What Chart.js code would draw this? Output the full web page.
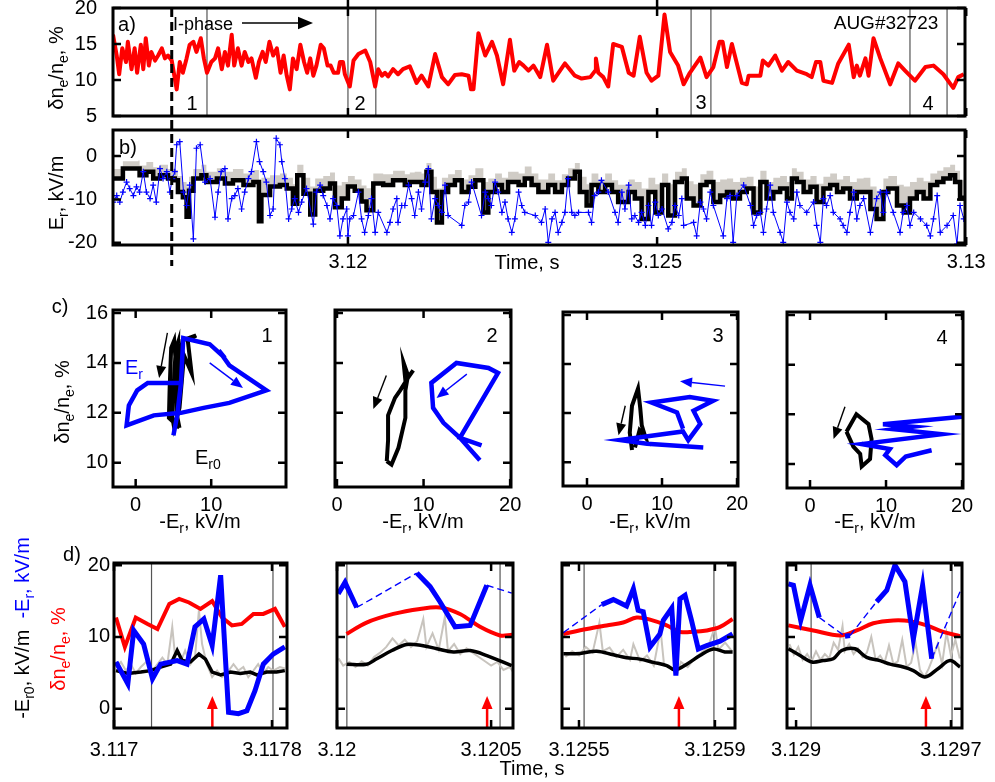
<!DOCTYPE html>
<html>
<head>
<meta charset="utf-8">
<script src="https://cdn.jsdelivr.net/npm/chart.js@4.4.1/dist/chart.umd.min.js"></script>
<style>
body { margin: 0; width: 995px; height: 782px; position: relative; background: #fff; overflow: hidden;
       font-family: "Liberation Sans", Arial, Helvetica, sans-serif; }
canvas { position: absolute; }
.t { position: absolute; font-size: 20px; line-height: 1; white-space: nowrap; color: #000; }
.t sub { font-size: 70%; vertical-align: -0.35em; line-height: 0; }
.c { transform: translate(-50%, -50%); }
.l { transform: translateY(-50%); }
.r { transform: translate(-50%, -50%) rotate(-90deg); }
</style>
</head>
<body>
<canvas id="pa"></canvas>
<canvas id="pb"></canvas>
<canvas id="c1"></canvas>
<canvas id="c2"></canvas>
<canvas id="c3"></canvas>
<canvas id="c4"></canvas>
<canvas id="d1"></canvas>
<canvas id="d2"></canvas>
<canvas id="d3"></canvas>
<canvas id="d4"></canvas>
<canvas id="overlay" width="995" height="782" style="left:0;top:0"></canvas>

<div class="t c" style="left:127px;top:24px">a)</div>
<div class="t l" style="left:173px;top:24px;font-size:18px">I-phase</div>
<div class="t c" style="left:886px;top:22px;font-size:19px">AUG#32723</div>
<div class="t c" style="left:192px;top:103px">1</div>
<div class="t c" style="left:360px;top:103px">2</div>
<div class="t c" style="left:701px;top:102px">3</div>
<div class="t c" style="left:928px;top:103px">4</div>
<div class="t r" style="left:56px;top:68px">&delta;n<sub>e</sub>/n<sub>e</sub>, %</div>
<div class="t c" style="left:128px;top:147px">b)</div>
<div class="t r" style="left:56px;top:193px">E<sub>r</sub>, kV/m</div>
<div class="t c" style="left:527px;top:262px">Time, s</div>

<div class="t c" style="left:60px;top:306px">c)</div>
<div class="t r" style="left:62px;top:402px">&delta;n<sub>e</sub>/n<sub>e</sub>, %</div>
<div class="t c" style="left:267px;top:335px">1</div>
<div class="t c" style="left:492px;top:335px">2</div>
<div class="t c" style="left:718px;top:335px">3</div>
<div class="t c" style="left:942px;top:337px">4</div>
<div class="t l" style="left:125px;top:367px;color:#0000ff">E<sub>r</sub></div>
<div class="t l" style="left:195px;top:457px">E<sub>r0</sub></div>
<div class="t c" style="left:200px;top:521px">-E<sub>r</sub>, kV/m</div>
<div class="t c" style="left:423px;top:521px">-E<sub>r</sub>, kV/m</div>
<div class="t c" style="left:650px;top:521px">-E<sub>r</sub>, kV/m</div>
<div class="t c" style="left:875px;top:521px">-E<sub>r</sub>, kV/m</div>

<div class="t c" style="left:72px;top:554px">d)</div>
<div class="t r" style="left:22px;top:628px">-E<sub>r0</sub>, kV/m&nbsp;&nbsp;<span style="color:#0000ff">-E<sub>r</sub>, kV/m</span></div>
<div class="t r" style="left:58px;top:649px;color:#ff0000">&delta;n<sub>e</sub>/n<sub>e</sub>, %</div>
<div class="t c" style="left:532px;top:768px">Time, s</div>

<script>
// All times are in ms after t = 3.12 s; tick labels give the absolute time.

// ---- panels a and b ----
const abTicks = [0, 5, 10];
const abTickLabels = ['3.12', '3.125', '3.13'];
const aYTicks = [5, 10, 15, 20];
const bYTicks = [-20, -10, 0];
const iPhaseStart = -2.85;
const regionLines = [-2.28, 0.0, 0.45, 5.55, 5.87, 9.09, 9.69];

const aTime = [-3.80,-3.74,-3.70,-3.65,-3.59,-3.56,-3.50,-3.45,-3.41,-3.35,-3.31,-3.27,-3.22,-3.18,-3.12,-3.07,-3.01,-2.96,-2.91,-2.85,
  -2.77,-2.72,-2.67,-2.61,-2.56,-2.50,-2.45,-2.38,-2.33,-2.28,-2.21,-2.15,-2.10,-2.04,-1.99,-1.94,-1.88,-1.84,-1.78,-1.72,
  -1.67,-1.61,-1.56,-1.49,-1.44,-1.38,-1.33,-1.27,-1.21,-1.15,-1.09,-1.04,-0.99,-0.94,-0.89,-0.83,-0.77,-0.71,-0.66,-0.61,
  -0.56,-0.51,-0.44,-0.39,-0.33,-0.28,-0.23,-0.16,-0.13,-0.08,-0.05,
  0.03,0.09,0.17,0.28,0.36,0.44,0.49,0.55,0.60,0.65,0.73,0.81,
  0.89,1.00,1.11,1.19,1.30,1.41,1.52,1.62,1.73,1.84,1.95,1.99,2.03,2.11,2.22,2.33,2.41,2.51,2.62,2.69,
  2.77,2.84,2.92,3.00,3.11,3.22,3.32,3.51,3.67,3.78,3.92,4.00,4.01,4.05,4.13,4.21,4.29,4.43,4.54,4.62,
  4.72,4.83,4.91,5.02,5.12,5.21,5.34,5.43,
  5.53,5.70,5.80,5.91,6.01,6.06,6.13,6.21,6.37,6.45,6.48,6.67,6.71,6.80,6.91,7.02,7.12,7.26,7.42,7.50,
  7.57,7.64,7.69,7.83,7.93,8.10,8.18,8.23,8.28,8.37,8.42,8.45,8.50,8.61,8.77,8.90,9.01,9.17,9.34,9.47,
  9.63,9.79,9.87,9.96];
const aFluct = [16.3,13.4,10.8,14.4,12.5,15.3,11.5,14.4,11.0,14.9,11.5,15.8,12.0,13.9,12.7,13.4,14.4,13.0,13.4,12.7,
  8.7,12.5,11.0,13.0,14.9,15.3,13.9,15.8,13.0,11.0,12.5,13.0,14.4,11.5,13.9,12.0,16.3,12.0,14.4,12.0,
  13.9,12.5,13.0,10.3,12.5,13.9,12.5,15.3,13.4,14.4,11.0,13.4,10.6,8.7,13.0,11.5,14.9,12.5,11.0,13.0,
  10.6,12.0,14.9,14.4,12.0,12.0,11.0,11.0,12.5,12.5,10.8,
  9.1,12.7,13.6,14.1,12.5,9.1,11.5,10.6,11.0,10.5,11.5,10.8,
  11.5,11.9,9.6,10.6,9.1,13.6,10.4,9.4,10.7,10.8,10.6,8.7,8.7,16.5,13.4,15.3,13.4,9.4,15.6,11.3,
  12.5,12.0,11.3,12.0,10.4,14.9,9.9,12.3,10.6,10.2,10.4,11.3,13.0,11.0,10.4,9.1,15.0,14.6,11.0,10.6,
  16.0,11.0,9.9,10.6,19.1,13.9,12.0,9.4,
  11.0,13.1,10.4,11.8,15.3,15.3,11.8,15.0,9.6,9.4,10.6,10.6,12.7,12.0,13.4,11.3,12.5,11.3,10.8,10.4,
  12.5,12.5,9.9,9.6,12.3,14.9,10.4,12.0,10.6,13.0,10.6,12.5,15.8,13.0,9.4,12.3,11.3,9.9,11.8,12.0,
  10.8,8.9,10.4,10.8];

const bTime = [-3.80,-3.66,-3.64,-3.39,-3.37,-3.26,-3.15,-3.04,-2.91,-2.80,-2.75,-2.67,-2.61,-2.57,-2.50,-2.37,-2.29,-2.12,-1.99,-1.86,
  -1.69,-1.53,-1.44,-1.40,-1.26,-1.10,-0.99,-0.89,-0.82,-0.72,-0.61,-0.53,-0.40,-0.29,-0.21,-0.10,0.00,0.11,0.22,0.30,
  0.41,0.57,0.73,0.92,1.00,1.08,1.19,1.27,1.35,1.44,1.52,1.62,1.73,1.84,1.95,2.06,2.19,2.27,2.38,2.49,
  2.59,2.76,2.86,2.97,3.08,3.24,3.35,3.46,3.56,3.67,3.75,3.86,3.94,4.05,4.16,4.27,4.37,4.54,4.64,4.75,
  4.86,4.97,5.08,5.18,5.29,5.40,5.48,5.59,5.70,5.80,5.91,6.02,6.13,6.23,6.34,6.45,6.56,6.67,6.77,6.88,
  6.99,7.10,7.18,7.26,7.37,7.48,7.58,7.69,7.80,7.91,8.01,8.12,8.23,8.34,8.45,8.55,8.66,8.74,8.88,8.99,
  9.09,9.20,9.31,9.42,9.53,9.63,9.74,9.82,9.90,9.96];
const bEr0 = [-5.2,-5.2,-2.9,-2.9,-4.4,-3.6,-5.2,-4.4,-5.2,-5.6,-8.3,-9.5,-14.0,-8.0,-5.2,-4.4,-6.0,-5.2,-6.3,-5.6,
  -6.7,-6.0,-15.0,-9.0,-7.0,-6.7,-7.5,-11.0,-4.4,-8.7,-13.5,-8.0,-7.5,-6.3,-11.8,-9.8,-7.0,-8.0,-10.5,-12.5,
  -6.3,-6.7,-5.6,-6.7,-6.0,-6.0,-6.7,-3.6,-8.3,-15.3,-8.3,-6.7,-5.6,-8.3,-7.1,-5.6,-13.0,-8.3,-6.7,-8.3,
  -6.0,-6.7,-5.2,-6.7,-8.3,-6.7,-8.3,-6.7,-5.2,-3.6,-8.3,-11.4,-6.7,-8.3,-6.7,-8.3,-10.6,-8.3,-9.8,-14.5,
  -8.3,-13.0,-6.7,-13.7,-6.0,-5.2,-9.8,-11.4,-6.7,-6.0,-10.6,-9.1,-8.3,-9.8,-8.3,-7.5,-13.0,-6.0,-9.8,-8.3,
  -7.5,-9.8,-5.2,-6.0,-8.3,-7.1,-10.6,-7.5,-6.7,-8.3,-7.5,-9.8,-8.3,-8.3,-12.2,-14.5,-8.3,-7.5,-11.4,-13.0,
  -9.8,-8.3,-9.8,-6.7,-6.0,-5.2,-4.4,-6.0,-9.8,-9.1];
const bEr0Upper = [-3.0,-2.6,-1.2,-1.0,-2.2,-1.4,-2.6,-2.0,-3.0,-3.2,-4.6,-6.0,-7.0,-4.8,-3.0,-2.0,-3.6,-2.8,-3.6,-3.0,
  -4.0,-3.2,-6.0,-5.0,-4.4,-4.0,-5.0,-6.5,-2.0,-5.0,-7.0,-5.2,-4.6,-3.8,-6.8,-6.0,-4.6,-5.4,-6.8,-7.4,
  -4.0,-4.2,-3.4,-4.2,-3.8,-3.6,-4.0,-1.6,-4.8,-7.5,-5.0,-4.2,-3.2,-5.4,-4.4,-2.8,-6.0,-5.2,-4.0,-5.0,
  -3.6,-4.0,-2.4,-4.0,-5.4,-4.0,-5.6,-4.2,-2.8,-1.6,-4.8,-6.5,-4.0,-5.4,-4.0,-5.6,-6.6,-5.4,-6.0,-7.5,
  -5.0,-6.5,-4.0,-6.5,-3.6,-2.8,-5.8,-6.5,-4.2,-3.4,-6.0,-5.4,-5.2,-6.0,-5.0,-4.8,-7.0,-3.4,-6.0,-5.0,
  -4.6,-6.0,-2.8,-3.6,-5.4,-4.6,-6.4,-4.8,-4.0,-5.4,-4.6,-6.0,-5.2,-5.0,-7.0,-8.0,-5.2,-4.6,-6.6,-7.0,
  -6.0,-5.0,-5.8,-4.0,-3.4,-2.6,-2.0,-3.4,-5.6,-5.4];

const bErTime = [-3.80,-3.74,-3.69,-3.64,-3.58,-3.53,-3.47,-3.42,-3.37,-3.31,-3.26,-3.20,-3.15,-3.10,-3.04,-2.99,-2.93,-2.88,-2.84,-2.80,
  -2.77,-2.72,-2.66,-2.61,-2.56,-2.50,-2.45,-2.39,-2.31,-2.23,-2.15,-2.10,-2.05,-1.99,-1.94,-1.88,-1.83,-1.78,-1.72,-1.67,
  -1.61,-1.56,-1.48,-1.43,-1.37,-1.32,-1.26,-1.21,-1.16,-1.10,-1.07,-1.02,-0.96,-0.91,-0.86,-0.80,-0.75,-0.67,-0.56,-0.51,
  -0.45,-0.40,-0.34,-0.29,-0.24,-0.18,-0.13,-0.08,-0.02,0.00,0.03,0.09,0.17,0.22,0.27,0.33,0.38,0.44,0.49,0.63,
  0.68,0.73,0.79,
  0.81,0.87,0.92,0.98,1.03,1.08,1.14,1.19,1.25,1.30,1.35,1.41,1.46,1.52,1.57,1.62,1.84,1.89,1.95,2.00,
  2.16,2.22,2.27,2.32,2.38,2.43,2.49,2.54,2.59,2.65,2.70,2.76,2.81,2.86,3.03,3.13,3.19,3.24,3.30,3.35,
  3.40,3.46,3.51,3.56,3.62,3.67,3.73,3.89,3.94,3.99,4.05,4.10,4.21,4.32,4.37,4.43,4.48,4.54,4.59,4.64,
  4.70,4.75,4.81,4.86,4.91,4.97,5.02,5.08,5.18,5.24,5.29,5.35,5.40,
  5.43,5.59,5.64,5.70,5.75,5.80,5.86,5.91,6.07,6.13,6.18,6.23,6.29,6.40,6.51,6.56,6.61,6.67,6.72,6.77,
  6.83,6.88,6.99,7.04,7.10,7.15,7.21,7.26,7.31,7.42,7.53,7.58,7.64,7.69,7.74,7.80,7.85,7.96,8.01,8.07,
  8.12,8.18,8.23,8.28,8.34,8.45,8.55,8.61,8.66,8.71,8.82,8.93,8.98,9.04,9.09,9.15,9.26,9.36,9.42,9.47,
  9.53,9.58,9.69,9.79,9.85,9.90,9.96];
const bEr = [-10.6,-9.1,-10.6,-8.3,-6.0,-7.5,-9.1,-7.1,-8.3,-3.6,-8.3,-9.8,-6.7,-10.6,-2.9,-5.2,-3.6,-8.3,-5.2,-3.6,
  2.6,3.3,-8.3,-11.4,-6.7,-19.1,1.8,2.6,-6.0,-5.2,-14.1,-8.3,-3.6,-2.9,-14.5,-9.8,-9.1,-7.5,-12.2,-8.3,
  -5.2,-3.6,3.3,-1.3,-3.6,-6.0,-13.7,-12.2,4.1,2.6,-1.3,-5.2,-14.5,-12.2,-9.8,-13.0,-10.6,-7.5,-15.7,-8.3,
  -6.7,-9.1,-11.4,-14.5,-9.8,-11.4,-18.4,-14.5,-12.2,-18.4,-14.5,-13.7,-8.3,-14.5,-17.6,-13.7,-9.8,-17.6,-13.0,-17.6,
  -15.3,-12.2,-9.8,
  -15.3,-11.4,-11.4,-6.7,-9.8,-13.7,-8.3,-12.2,-6.0,-2.9,-14.5,-9.8,-11.4,-13.0,-6.7,-13.7,-16.0,-11.4,-10.6,-6.0,
  -13.7,-8.3,-9.8,-11.4,-6.0,-8.3,-13.0,-10.6,-14.5,-17.6,-14.5,-8.3,-11.4,-13.0,-13.7,-15.3,-12.2,-19.9,-14.5,-13.0,
  -17.6,-15.3,-13.0,-5.2,-13.0,-13.7,-13.0,-13.0,-15.3,-9.1,-8.3,-5.6,-8.3,-13.0,-15.3,-8.3,-12.2,-6.7,-14.5,-13.7,
  -15.3,-13.0,-16.0,-11.4,-16.0,-10.6,-13.7,-12.2,-16.8,-15.3,-11.4,-13.7,-9.8,
  -16.0,-15.3,-18.4,-10.6,-12.2,-14.5,-8.3,-11.4,-18.4,-9.8,-9.1,-19.9,-9.1,-6.7,-11.4,-16.0,-13.7,-13.0,-17.6,-12.2,
  -6.7,-13.0,-17.6,-19.9,-10.6,-13.0,-14.5,-8.3,-11.4,-13.0,-10.6,-16.0,-19.9,-9.8,-11.4,-9.1,-13.0,-14.5,-16.0,-17.6,
  -13.0,-8.3,-14.5,-11.4,-9.8,-17.6,-9.8,-8.3,-13.0,-8.3,-13.0,-17.6,-13.0,-11.4,-16.0,-13.0,-14.5,-16.0,-18.4,-14.5,
  -9.1,-17.6,-16.0,-13.7,-20.3,-11.4,-14.5];

// ---- panel c: fluctuation level vs -Er (loops) ----
const c1XTicks = [0, 10];
const cXTicks = [0, 10, 20];
const cYTicks = [10, 12, 14, 16];
const c1BlackX = [5.8,4.4,4.5,4.7,5.1,5.5,5.9,6.2,7.1,8.0,6.9,7.4,6.4,5.8,5.1,4.8,5.3,5.6,5.4,5.8];
const c1BlackY = [11.4,11.8,13.0,14.6,14.9,13.2,14.3,14.9,15.0,15.1,14.9,13.6,14.3,12.2,11.4,11.9,14.5,14.8,12.0,11.4];
const c1BlueX = [5.0,5.5,6.0,6.3,9.8,11.8,11.0,12.4,17.3,12.4,9.0,6.0,2.4,-1.2,-0.9,0.2,1.6,6.1];
const c1BlueY = [11.1,11.9,13.2,15.0,14.75,14.2,14.5,13.9,12.9,12.4,12.2,12.0,11.9,11.5,12.3,12.9,13.2,13.2];
const c1ArrowBlack = [4.2, 15.2, 3.1, 13.4];
const c1ArrowBlue = [9.8, 14.0, 14.2, 13.0];
const c2BlackX = [5.75,6.3,7.1,7.9,7.9,8.2,7.7,7.9,8.8,8.2,7.3,6.7,5.9,5.9,5.75];
const c2BlackY = [10.07,9.93,10.6,11.8,12.9,13.5,14.0,13.3,13.7,13.4,12.9,12.6,11.9,10.9,10.07];
const c2BlueX = [16.7,14.2,18.6,17.5,13.8,10.9,11.1,12.3,14.2,16.5];
const c2BlueY = [10.7,11.0,13.6,13.8,14.0,13.2,12.2,11.6,11.0,10.1];
const c2ArrowBlack = [5.7, 13.5, 4.2, 12.15];
const c2ArrowBlue = [15.0, 13.55, 11.5, 12.6];
const c3BlackX = [6.0,5.7,6.0,6.8,7.1,7.3,7.8,7.0,6.4];
const c3BlackY = [10.5,11.2,12.3,13.0,12.2,11.5,11.0,11.3,10.6];
const c3BlueX = [15.5,8.0,4.4,12.8,13.5,15.1,14.2,16.8,13.7,8.6,12.0,12.8];
const c3BlueY = [10.6,10.75,10.9,11.25,10.9,11.56,12.1,12.5,12.66,12.43,12.03,11.36];
const c3ArrowBlack = [5.1, 12.3, 4.2, 11.1];
const c3ArrowBlue = [18.4, 13.1, 12.4, 13.3];
const c4BlackX = [4.8,6.1,7.7,8.1,7.9,6.8,6.6,5.7,4.8];
const c4BlackY = [11.3,12.0,11.6,11.0,10.2,9.9,10.4,10.7,11.3];
const c4BlueX = [20.0,9.6,13.5,11.0,17.3,6.8,10.5,9.9,11.4,12.6,16.0];
const c4BlueY = [11.9,11.6,11.5,11.4,11.2,10.8,10.6,10.35,9.95,10.3,10.55];
const c4ArrowBlack = [4.6, 12.3, 3.1, 11.0];

// ---- panel d: zoomed time traces ----
const dYTicks = [0, 10, 20];
const d1Ticks = [-3.0, -2.2], d1TickLabels = ['3.117', '3.1178'];
const d2Ticks = [0, 0.5], d2TickLabels = ['3.12', '3.1205'];
const d3Ticks = [5.5, 5.9], d3TickLabels = ['3.1255', '3.1259'];
const d4Ticks = [9.0, 9.7], d4TickLabels = ['3.129', '3.1297'];

const d1RedTime = [-2.99,-2.945,-2.89,-2.83,-2.78,-2.72,-2.67,-2.62,-2.562,-2.503,-2.453,-2.403,-2.353,-2.294,-2.244,-2.185,-2.135];
const d1Red = [12.7,8.6,12.7,11.8,11.1,14.6,15.3,14.8,13.9,15.0,12.7,11.6,11.8,13.2,13.2,13.9,11.4];
const d1BlueTime = [-2.99,-2.93,-2.90,-2.85,-2.805,-2.764,-2.68,-2.63,-2.59,-2.545,-2.503,-2.46,-2.42,-2.37,-2.327,-2.286,-2.244,-2.194,-2.135];
const d1Blue = [6.5,3.45,10.9,9.0,4.15,6.2,6.7,6.2,11.4,12.5,8.8,18.6,-0.5,-0.7,-0.3,2.5,6.2,7.6,8.6];
const d1BlackTime = [-2.99,-2.93,-2.864,-2.814,-2.764,-2.713,-2.68,-2.655,-2.613,-2.57,-2.537,-2.503,-2.46,-2.41,-2.36,-2.31,-2.277,-2.227,-2.177,-2.135];
const d1Black = [5.3,4.9,5.1,5.3,5.8,6.2,8.1,6.7,6.5,7.6,6.9,5.1,4.7,5.1,4.9,5.1,4.7,5.1,5.1,5.3];
const d1GrayTime = [-2.99,-2.965,-2.94,-2.915,-2.89,-2.864,-2.83,-2.805,-2.78,-2.755,-2.73,-2.705,-2.69,-2.663,-2.64,-2.613,-2.59,-2.57,
  -2.554,-2.53,-2.503,-2.478,-2.453,-2.43,-2.395,-2.37,-2.345,-2.32,-2.294,-2.27,-2.244,-2.219,-2.194,-2.16,-2.135];
const d1Gray = [5.8,6.5,5.3,6.2,4.9,5.8,6.7,5.3,6.2,7.1,6.2,11.4,7.1,6.5,8.1,6.2,7.1,13.7,9.0,6.2,4.4,5.3,4.4,4.9,6.2,5.3,5.8,4.4,5.3,6.2,4.9,5.8,5.3,5.8,5.6];
const d1BlueDashed = [];
const d1Lines = [-2.81, -2.195];
const d1Arrow = [-2.502];

const d2RedTime = [0.031,0.096,0.183,0.269,0.334,0.399,0.464,0.529,0.568];
const d2Red = [10.4,12.0,13.2,13.9,14.1,13.2,11.4,10.2,10.3];
const d2BlueTime = [0.004,0.026,0.064,0.259,0.302,0.334,0.383,0.432,0.486,0.567];
const d2Blue = [16.0,17.6,14.1,18.9,17.0,14.9,11.4,11.6,17.2,16.1];
const d2BlackTime = [0.031,0.096,0.129,0.178,0.226,0.275,0.324,0.378,0.432,0.486,0.567];
const d2Black = [6.2,6.2,6.95,8.1,8.95,8.8,8.35,7.9,8.1,7.4,6.0];
const d2GrayTime = [0.005,0.02,0.04,0.06,0.08,0.10,0.12,0.14,0.16,0.18,0.20,0.22,0.24,0.26,0.28,0.29,0.31,0.33,0.35,0.36,0.38,0.40,0.42,0.44,0.46,0.48,0.50,0.52,0.54,0.56,0.57];
const d2Gray = [7.0,6.0,6.5,5.8,6.6,6.0,7.2,7.8,8.6,9.8,8.8,9.6,8.6,9.4,12.5,8.6,10.5,8.2,12.8,8.0,9.0,7.6,8.4,7.8,7.2,6.6,6.0,6.5,5.4,5.8,5.2];
const d2BlueDashed = [2, 8];
const d2Lines = [0.032, 0.529];
const d2Arrow = [0.487];

const d3RedTime = [5.454,5.523,5.581,5.630,5.670,5.709,5.758,5.797,5.836,5.876,5.915,5.952];
const d3Red = [10.4,11.1,11.6,12.0,12.7,12.4,11.6,10.7,10.7,10.9,11.4,12.5];
const d3BlueTime = [5.454,5.567,5.601,5.640,5.660,5.674,5.689,5.709,5.738,5.748,5.773,5.785,5.797,5.812,5.831,5.851,5.876,5.915,5.952];
const d3Blue = [10.6,14.5,15.2,14.3,16.7,13.7,13.5,8.6,10.4,12.3,14.0,4.6,15.3,15.8,12.3,8.3,8.8,9.4,10.4];
const d3BlackTime = [5.454,5.503,5.552,5.601,5.640,5.679,5.719,5.758,5.782,5.817,5.856,5.895,5.929,5.952];
const d3Black = [7.65,7.7,8.0,7.5,7.1,6.9,6.45,6.0,5.4,6.2,7.4,8.3,7.9,7.9];
const d3GrayTime = [5.46,5.48,5.50,5.52,5.54,5.56,5.57,5.59,5.61,5.63,5.65,5.66,5.68,5.70,5.72,5.74,5.75,5.77,5.79,5.80,5.82,5.84,5.86,5.88,5.90,5.91,5.93,5.95];
const d3Gray = [7.2,8.0,7.4,8.6,7.8,12.0,8.0,8.5,7.2,8.2,6.8,9.0,6.6,7.4,6.0,11.0,6.2,5.6,5.0,6.5,5.8,7.0,7.8,8.6,11.4,8.2,9.2,8.0];
const d3BlueDashed = [0];
const d3Lines = [5.515, 5.897];
const d3Arrow = [5.794];

const d4RedTime = [8.965,9.078,9.199,9.274,9.349,9.439,9.515,9.590,9.665,9.741];
const d4Red = [11.6,10.9,10.2,10.9,11.9,12.3,12.2,11.6,10.7,10.1];
const d4BlueTime = [8.965,8.988,9.021,9.063,9.105,9.221,9.244,9.364,9.410,9.447,9.492,9.530,9.572,9.613,9.741];
const d4Blue = [17.4,17.2,12.3,17.2,12.7,10.1,10.2,14.9,16.5,20.0,17.7,9.7,17.2,6.95,16.3];
const d4BlackTime = [8.965,9.018,9.071,9.123,9.168,9.206,9.266,9.319,9.379,9.425,9.485,9.530,9.583,9.643,9.696,9.741];
const d4Black = [8.35,7.4,6.5,6.7,6.95,8.1,8.35,7.15,6.7,6.2,5.8,5.3,4.4,5.6,6.7,5.8];
const d4GrayTime = [8.97,8.99,9.01,9.03,9.05,9.07,9.09,9.11,9.13,9.15,9.17,9.19,9.21,9.22,9.24,9.26,9.28,9.30,9.32,9.34,
  9.36,9.38,9.40,9.42,9.44,9.46,9.48,9.50,9.52,9.54,9.56,9.58,9.60,9.62,9.64,9.66,9.68,9.70,9.72,9.74];
const d4Gray = [9.0,7.5,8.6,6.8,7.6,6.6,8.0,6.8,7.6,7.0,9.2,8.2,11.5,8.0,9.0,7.6,8.4,7.2,7.8,10.0,
  6.8,7.4,6.4,8.8,6.2,6.6,9.6,5.8,6.4,9.2,5.4,4.4,5.6,7.2,9.0,6.2,10.6,7.4,9.6,7.0];
const d4BlueDashed = [4, 6, 13];
const d4Lines = [9.068, 9.705];
const d4Arrow = [9.587];

// ---------------------------------------------------------------
Chart.defaults.font.family = '"Liberation Sans", Arial, Helvetica, sans-serif';
Chart.defaults.font.size = 20;
Chart.defaults.color = '#000';

const RED = '#ff0000', BLUE = '#0000ff', GRAY = 'rgb(208,204,198)';

function xy(xs, ys) {
    return xs.map((x, i) => ({ x: x, y: ys[i] }));
}

function arrowTo(ctx, x0, y0, x1, y1, color, width, head) {
    const ang = Math.atan2(y1 - y0, x1 - x0);
    const hw = head * 0.42;
    const bx = x1 - head * Math.cos(ang), by = y1 - head * Math.sin(ang);
    ctx.strokeStyle = color;
    ctx.fillStyle = color;
    ctx.lineWidth = width;
    ctx.setLineDash([]);
    ctx.beginPath();
    ctx.moveTo(x0, y0);
    ctx.lineTo(bx, by);
    ctx.stroke();
    ctx.beginPath();
    ctx.moveTo(x1, y1);
    ctx.lineTo(bx + hw * Math.sin(ang), by - hw * Math.cos(ang));
    ctx.lineTo(bx - hw * Math.sin(ang), by + hw * Math.cos(ang));
    ctx.closePath();
    ctx.fill();
}

/** Matlab-like box: frame, inward ticks, guide lines and arrows */
function framePlugin(f) {
    return {
        id: 'frame',
        beforeDatasetsDraw(chart) {
            const { ctx, chartArea: a, scales: { x } } = chart;
            ctx.save();
            ctx.strokeStyle = f.vColor || '#666';
            ctx.lineWidth = f.vWidth || 1.2;
            (f.vlines || []).forEach(v => {
                const p = x.getPixelForValue(v);
                ctx.beginPath();
                ctx.moveTo(p, a.top);
                ctx.lineTo(p, a.bottom);
                ctx.stroke();
            });
            ctx.restore();
        },
        afterDatasetsDraw(chart) {
            const { ctx, chartArea: a, scales: { x, y } } = chart;
            ctx.save();
            (f.arrows || []).forEach(r => {
                arrowTo(ctx, x.getPixelForValue(r.pts[0]), y.getPixelForValue(r.pts[1]),
                    x.getPixelForValue(r.pts[2]), y.getPixelForValue(r.pts[3]), r.color, 1.4, 12);
            });
            (f.upArrows || []).forEach(v => {
                const p = x.getPixelForValue(v);
                arrowTo(ctx, p, a.bottom - 1, p, a.bottom - 32, RED, 2.5, 13);
            });
            ctx.strokeStyle = '#000';
            ctx.lineWidth = 2.5;
            ctx.beginPath();
            (f.xt || []).forEach(v => {
                const p = x.getPixelForValue(v);
                ctx.moveTo(p, a.top); ctx.lineTo(p, a.top + 8);
                ctx.moveTo(p, a.bottom); ctx.lineTo(p, a.bottom - 8);
            });
            (f.yt || []).forEach(v => {
                const p = y.getPixelForValue(v);
                ctx.moveTo(a.left, p); ctx.lineTo(a.left + 8, p);
                ctx.moveTo(a.right, p); ctx.lineTo(a.right - 8, p);
            });
            ctx.stroke();
            ctx.lineWidth = 3;
            ctx.strokeRect(a.left, a.top, a.width, a.height);
            ctx.restore();
        }
    };
}

/** One axes box placed so that its plot area covers box {l,t,r,b} of the page */
function makePanel(id, box, cfg) {
    const yw = cfg.yw, pr = cfg.pr, pt = 14, xh = cfg.xh;
    const cv = document.getElementById(id);
    cv.width = box.r - box.l + yw + pr;
    cv.height = box.b - box.t + pt + xh;
    cv.style.left = (box.l - yw) + 'px';
    cv.style.top = (box.t - pt) + 'px';

    const chart = new Chart(cv, {
        type: 'line',
        data: { datasets: cfg.datasets },
        options: {
            responsive: false,
            animation: false,
            devicePixelRatio: 1,
            events: [],
            layout: { padding: { left: 0, right: pr, top: pt, bottom: 0 } },
            elements: { point: { radius: 0 }, line: { tension: 0 } },
            plugins: { legend: { display: false }, tooltip: { enabled: false } },
            scales: {
                x: {
                    type: 'linear', min: cfg.xr[0], max: cfg.xr[1],
                    grid: { display: false, drawTicks: false }, border: { display: false },
                    ticks: {
                        display: !!cfg.xLabels, autoSkip: false, maxRotation: 0, padding: cfg.xPad || 4,
                        callback: (v, i) => (cfg.xLabels ? cfg.xLabels[i] : '')
                    },
                    afterBuildTicks: s => { s.ticks = cfg.xTicks.map(v => ({ value: v })); },
                    afterFit: s => { s.height = xh; s.paddingLeft = 0; s.paddingRight = 0; }
                },
                y: {
                    type: 'linear', min: cfg.yr[0], max: cfg.yr[1],
                    grid: { display: false, drawTicks: false }, border: { display: false },
                    ticks: { display: !!cfg.yLabels, padding: cfg.yPad || 5, callback: v => String(v) },
                    afterBuildTicks: s => { s.ticks = cfg.yTicks.map(v => ({ value: v })); },
                    afterFit: s => { s.width = yw; s.paddingTop = 0; s.paddingBottom = 0; }
                }
            }
        },
        plugins: [framePlugin(Object.assign({ xt: cfg.xTicks, yt: cfg.yTicks }, cfg.frame))]
    });
    return { chart: chart, left: box.l - yw, top: box.t - pt };
}

// ---- panel a ----
const pa = makePanel('pa', { l: 113, r: 965, t: 8, b: 116 }, {
    yw: 60, pr: 10, xh: 10, xr: [-3.80, 9.98], yr: [5, 20],
    xTicks: abTicks, yTicks: aYTicks, yLabels: true, yPad: 16,
    frame: { vlines: regionLines, vColor: '#777', vWidth: 1.5 },
    datasets: [{ data: xy(aTime, aFluct), borderColor: RED, borderWidth: 4, borderJoinStyle: 'round' }]
});

// ---- panel b ----
const pb = makePanel('pb', { l: 113, r: 965, t: 130, b: 245 }, {
    yw: 60, pr: 30, xh: 34, xr: [-3.80, 9.98], yr: [-20.5, 6],
    xTicks: abTicks, xLabels: abTickLabels, xPad: 5,
    yTicks: bYTicks, yLabels: true, yPad: 16,
    datasets: [
        { data: xy(bTime, bEr0Upper), stepped: true, borderWidth: 0, borderColor: GRAY,
          backgroundColor: GRAY, fill: '+1', order: 3 },
        { data: xy(bTime, bEr0), stepped: true, borderColor: '#000', borderWidth: 4.5, order: 2 },
        { data: xy(bErTime, bEr), borderColor: BLUE, borderWidth: 1, order: 1,
          pointRadius: 3, pointStyle: 'cross', pointBorderColor: BLUE, pointBorderWidth: 1.2 }
    ]
});

// ---- panel c ----
function cPanel(id, box, xr, xTicks, showY, bx, by, ux, uy, arrows) {
    return makePanel(id, box, {
        yw: showY ? 50 : 24, pr: 24, xh: 30, xr: xr, yr: [9.03, 16.12],
        xTicks: xTicks, xLabels: xTicks.map(String), xPad: 6,
        yTicks: cYTicks, yLabels: showY, yPad: 5,
        frame: { arrows: arrows },
        datasets: [
            { data: xy(bx, by), borderColor: '#000', borderWidth: 4, borderJoinStyle: 'miter', order: 2 },
            { data: xy(ux, uy), borderColor: BLUE, borderWidth: 4.5, borderJoinStyle: 'miter', order: 1 }
        ]
    });
}
cPanel('c1', { l: 113, r: 286, t: 310, b: 487 }, [-3, 19.9], c1XTicks, true, c1BlackX, c1BlackY, c1BlueX, c1BlueY,
    [{ pts: c1ArrowBlack, color: '#000' }, { pts: c1ArrowBlue, color: BLUE }]);
cPanel('c2', { l: 335, r: 511, t: 310, b: 487 }, [-0.23, 20.1], cXTicks, false, c2BlackX, c2BlackY, c2BlueX, c2BlueY,
    [{ pts: c2ArrowBlack, color: '#000' }, { pts: c2ArrowBlue, color: BLUE }]);
cPanel('c3', { l: 563, r: 738, t: 312, b: 486 }, [-3.2, 20.13], cXTicks, false, c3BlackX, c3BlackY, c3BlueX, c3BlueY,
    [{ pts: c3ArrowBlack, color: '#000' }, { pts: c3ArrowBlue, color: BLUE }]);
cPanel('c4', { l: 787, r: 963, t: 312, b: 488 }, [-3.03, 20.13], cXTicks, false, c4BlackX, c4BlackY, c4BlueX, c4BlueY,
    [{ pts: c4ArrowBlack, color: '#000' }]);

// ---- panel d ----
function dPanel(id, box, xr, s) {
    const tension = s.smooth ? 0.35 : 0;
    return makePanel(id, box, {
        yw: s.showY ? 50 : 40, pr: 40, xh: 34, xr: xr, yr: [-2.7, 20.3],
        xTicks: s.ticks, xLabels: s.labels, xPad: 10,
        yTicks: dYTicks, yLabels: s.showY, yPad: 4,
        frame: { vlines: s.lines, vColor: '#555', vWidth: 1.2, upArrows: s.arrow },
        datasets: [
            { data: xy(s.grayT, s.gray), borderColor: 'rgb(200,196,190)', borderWidth: 2, order: 4 },
            { data: xy(s.blackT, s.black), borderColor: '#000', borderWidth: 3.5, tension: tension, order: 3 },
            { data: xy(s.redT, s.red), borderColor: RED, borderWidth: 4, tension: tension, order: 2 },
            { data: xy(s.blueT, s.blue), borderColor: BLUE, borderWidth: 5, order: 1,
              segment: {
                  borderWidth: ctx => (s.dashed.includes(ctx.p0DataIndex) ? 1.4 : undefined),
                  borderDash: ctx => (s.dashed.includes(ctx.p0DataIndex) ? [7, 4] : undefined)
              } }
        ]
    });
}
dPanel('d1', { l: 114, r: 287, t: 563, b: 728 }, [-3.0, -2.124], {
    ticks: d1Ticks, labels: d1TickLabels, showY: true, smooth: false,
    redT: d1RedTime, red: d1Red, blueT: d1BlueTime, blue: d1Blue, blackT: d1BlackTime, black: d1Black,
    grayT: d1GrayTime, gray: d1Gray, dashed: d1BlueDashed, lines: d1Lines, arrow: d1Arrow });
dPanel('d2', { l: 337, r: 513, t: 563, b: 728 }, [0, 0.571], {
    ticks: d2Ticks, labels: d2TickLabels, showY: false, smooth: true,
    redT: d2RedTime, red: d2Red, blueT: d2BlueTime, blue: d2Blue, blackT: d2BlackTime, black: d2Black,
    grayT: d2GrayTime, gray: d2Gray, dashed: d2BlueDashed, lines: d2Lines, arrow: d2Arrow });
dPanel('d3', { l: 562, r: 735, t: 563, b: 728 }, [5.45, 5.959], {
    ticks: d3Ticks, labels: d3TickLabels, showY: false, smooth: true,
    redT: d3RedTime, red: d3Red, blueT: d3BlueTime, blue: d3Blue, blackT: d3BlackTime, black: d3Black,
    grayT: d3GrayTime, gray: d3Gray, dashed: d3BlueDashed, lines: d3Lines, arrow: d3Arrow });
dPanel('d4', { l: 787, r: 962, t: 563, b: 728 }, [8.959, 9.750], {
    ticks: d4Ticks, labels: d4TickLabels, showY: false, smooth: true,
    redT: d4RedTime, red: d4Red, blueT: d4BlueTime, blue: d4Blue, blackT: d4BlackTime, black: d4Black,
    grayT: d4GrayTime, gray: d4Gray, dashed: d4BlueDashed, lines: d4Lines, arrow: d4Arrow });

// ---- overlay: I-phase start line crossing panels a and b, I-phase arrow ----
const octx = document.getElementById('overlay').getContext('2d');
const ax = pa.chart.scales.x;
octx.strokeStyle = '#000';
octx.lineWidth = 3;
octx.setLineDash([9, 5]);
const ix = pa.left + ax.getPixelForValue(iPhaseStart);
octx.beginPath();
octx.moveTo(ix, 8);
octx.lineTo(ix, 266);
octx.stroke();
octx.lineWidth = 2.5;
octx.setLineDash([]);
[0, 5].forEach(v => {
    const p = pa.left + ax.getPixelForValue(v);
    octx.beginPath();
    octx.moveTo(p, 0);
    octx.lineTo(p, 7);
    octx.stroke();
});
arrowTo(octx, 242, 23, 313, 23, '#000', 1.3, 15);
</script>
</body>
</html>
